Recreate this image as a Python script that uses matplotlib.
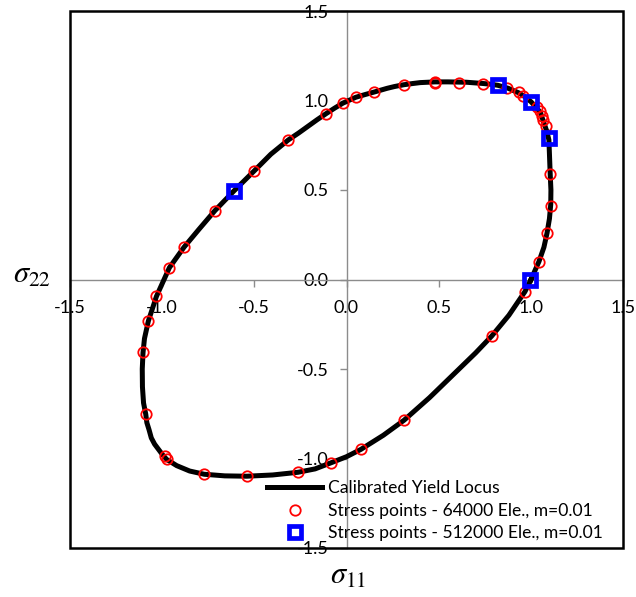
import matplotlib
matplotlib.use("Agg")
import matplotlib.pyplot as plt
from matplotlib.patches import Rectangle

# calibrated yield locus (closed loop)
locus_s11 = [1.0, 1.043, 1.070, 1.087, 1.100, 1.107, 1.108, 1.104, 1.100, 1.097,
             1.085, 1.070, 1.052, 1.030, 1.0, 0.965, 0.935, 0.877, 0.82, 0.78,
             0.74, 0.65, 0.60, 0.55, 0.48, 0.40, 0.36, 0.31, 0.26, 0.22,
             0.149, 0.10, 0.05, -0.02, -0.065, -0.11, -0.16, -0.21, -0.26, -0.315,
             -0.41, -0.50, -0.61, -0.713, -0.80, -0.881, -0.96, -1.03, -1.074, -1.095,
             -1.103, -1.107, -1.106, -1.100, -1.088, -1.082, -1.07, -1.058, -1.04, -1.0,
             -0.975, -0.92, -0.85, -0.771, -0.66, -0.541, -0.40, -0.263, -0.17, -0.084,
             0.0, 0.078, 0.20, 0.312, 0.45, 0.52, 0.60, 0.65, 0.70, 0.787,
             0.88, 0.967, 1.0]
locus_s22 = [0.0, 0.10, 0.18, 0.26, 0.34, 0.42, 0.50, 0.59, 0.70, 0.78,
             0.83, 0.875, 0.93, 0.96, 0.993, 1.022, 1.042, 1.068, 1.085, 1.091,
             1.095, 1.102, 1.103, 1.104, 1.104, 1.100, 1.095, 1.088, 1.078, 1.068,
             1.047, 1.033, 1.018, 0.985, 0.957, 0.927, 0.892, 0.855, 0.818, 0.78,
             0.70, 0.607, 0.495, 0.385, 0.28, 0.180, 0.066, -0.094, -0.232, -0.33,
             -0.41, -0.50, -0.60, -0.69, -0.753, -0.80, -0.84, -0.885, -0.92, -0.975,
             -1.005, -1.04, -1.07, -1.088, -1.097, -1.099, -1.092, -1.077, -1.058, -1.024,
             -0.99, -0.949, -0.87, -0.786, -0.66, -0.59, -0.51, -0.46, -0.41, -0.316,
             -0.20, -0.068, 0.0]

# stress points, 64000 elements
pts64_s11 = [-1.03, -0.96, -0.881, -0.713, -0.50, -0.315, -0.111, -0.021, 0.051, 0.149,
             0.312, 0.478, 0.482, 0.608, 0.738, 0.868, 0.937, 0.958, 1.031, 1.049,
             1.058, 1.063, 1.081, 1.103, 1.107, 1.087, 1.043, 0.967, 0.787, 0.312,
             0.078, -0.082, -0.263, -0.541, -0.771, -0.975, -0.984, -1.088, -1.101, -1.074]
pts64_s22 = [-0.094, 0.066, 0.180, 0.384, 0.606, 0.779, 0.925, 0.984, 1.018, 1.046,
             1.087, 1.100, 1.106, 1.099, 1.092, 1.068, 1.046, 1.027, 0.965, 0.941,
             0.915, 0.891, 0.859, 0.588, 0.412, 0.261, 0.099, -0.068, -0.316, -0.785,
             -0.948, -1.023, -1.077, -1.098, -1.088, -1.005, -0.986, -0.753, -0.407, -0.232]

# stress points, 512000 elements
pts512_s11 = [-0.61, 0.82, 0.998, 1.099, 0.995]
pts512_s22 = [0.494, 1.085, 0.993, 0.789, 0.0]

ticks = [-1.5, -1.0, -0.5, 0.0, 0.5, 1.0, 1.5]

plt.rcParams['font.family'] = ['Lato', 'DejaVu Sans']
plt.rcParams['mathtext.fontset'] = 'stix'

fig = plt.figure(figsize=(6.36, 5.97), dpi=100)
ax = fig.add_axes([69.75 / 636, 1 - 548 / 597, 553.5 / 636, 537 / 597])

ax.plot(locus_s11, locus_s22, color='black', lw=3.6, solid_joinstyle='round',
        label='Calibrated Yield Locus', zorder=3)
ax.plot(pts64_s11, pts64_s22, ls='none', marker='o', ms=7.5, mfc='none', mec='red',
        mew=1.3, label='Stress points - 64000 Ele., m=0.01', zorder=4)
ax.plot(pts512_s11, pts512_s22, ls='none', marker='s', ms=9, mfc='none', mec='blue',
        mew=3.4, label='Stress points - 512000 Ele., m=0.01', zorder=5)

ax.set_xlim(-1.5, 1.5)
ax.set_ylim(-1.5, 1.5)
ax.set_xticks(ticks)
ax.set_yticks(ticks)
ax.set_xticklabels([f'{t:.1f}' for t in ticks])
ax.set_yticklabels([f'{t:.1f}' for t in ticks])

for side in ['left', 'bottom']:
    ax.spines[side].set_position(('data', 0))
    ax.spines[side].set_color('#8c8c8c')
    ax.spines[side].set_linewidth(1.0)
for side in ['top', 'right']:
    ax.spines[side].set_visible(False)
ax.add_patch(Rectangle((0, 0), 1, 1, transform=ax.transAxes, fill=False,
                       ec='black', lw=1.8, clip_on=False, zorder=6))

ax.tick_params(axis='both', direction='out', length=5, width=1.0, color='#8c8c8c',
               labelsize=13, labelcolor='black')
ax.tick_params(axis='x', pad=10)
ax.tick_params(axis='y', pad=8)

fig.text(32 / 636, 1 - 275 / 597, r'$\sigma_{22}$', fontsize=22, ha='center', va='center')
fig.text(348 / 636, 1 - 576 / 597, r'$\sigma_{11}$', fontsize=22, ha='center', va='center')

ax.legend(loc='upper left', bbox_to_anchor=(267 / 636, 1 - 480 / 597),
          bbox_transform=fig.transFigure, frameon=False, fontsize=12.6,
          borderpad=0, borderaxespad=0, handlelength=3.15, handletextpad=0.36,
          labelspacing=0.38)

fig.savefig('out.png', dpi=100)
